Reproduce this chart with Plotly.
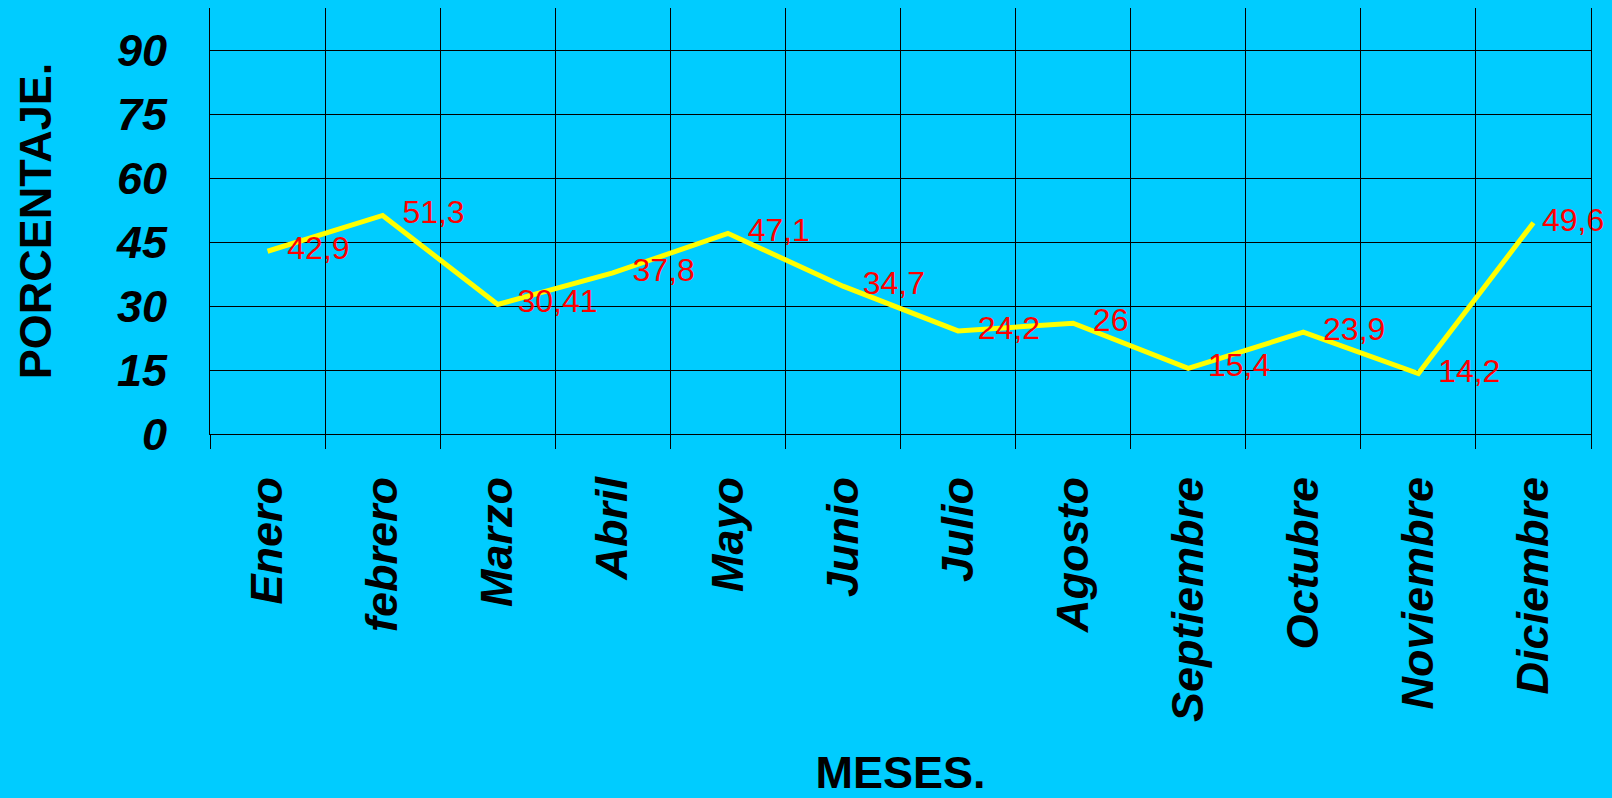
import plotly.graph_objects as go

meses = ["Enero", "febrero", "Marzo", "Abril", "Mayo", "Junio", "Julio",
         "Agosto", "Septiembre", "Octubre", "Noviembre", "Diciembre"]
porcentaje = [42.9, 51.3, 30.41, 37.8, 47.1, 34.7, 24.2, 26, 15.4, 23.9, 14.2, 49.6]
etiquetas = [f"{v:g}".replace(".", ",") for v in porcentaje]
y_ticks = [0, 15, 30, 45, 60, 75, 90]

BG = "#00CCFF"
FONT = "Liberation Sans, Arial, sans-serif"

# invisible marker sizes only control the gap between point and its label
label_gap = [30] * (len(meses) - 1) + [12]

fig = go.Figure()
fig.add_trace(go.Scatter(
    x=meses, y=porcentaje, text=etiquetas,
    mode="lines+markers+text",
    line=dict(color="#FFFF00", width=5),
    marker=dict(size=label_gap, color="rgba(0,0,0,0)",
                line=dict(width=0, color="rgba(0,0,0,0)")),
    textposition="middle right",
    textfont=dict(family=FONT, size=32, color="#FF0000"),
    cliponaxis=False,
    showlegend=False,
))

fig.update_layout(
    width=1612, height=798,
    margin=dict(l=210, r=21, t=8, b=364),
    paper_bgcolor=BG, plot_bgcolor=BG,
    font=dict(family=FONT, color="black"),
    xaxis=dict(
        type="category",
        range=[-0.5, len(meses) - 0.5],
        tickson="boundaries",
        showgrid=True, gridcolor="black", gridwidth=1,
        ticks="outside", ticklen=14, tickcolor="black", tickwidth=1,
        showline=True, linecolor="black", linewidth=1,
        tickangle=-90,
        tickfont=dict(family=FONT, size=45, weight="bold", style="italic", color="black"),
        ticklabelstandoff=24,
        title=dict(text="MESES.", font=dict(family=FONT, size=45, weight="bold", color="black"),
                   standoff=37),
        automargin=False,
    ),
    yaxis=dict(
        range=[0, 100],
        tickvals=y_ticks,
        showgrid=True, gridcolor="black", gridwidth=1,
        zeroline=False,
        showline=True, mirror=True, linecolor="black", linewidth=1,
        ticks="",
        tickfont=dict(family=FONT, size=45, weight="bold", style="italic", color="black"),
        ticklabelstandoff=33,
        title=dict(text="PORCENTAJE.", font=dict(family=FONT, size=45, weight="bold", color="black"),
                   standoff=50),
        automargin=False,
    ),
)

fig.write_html("out.html")
